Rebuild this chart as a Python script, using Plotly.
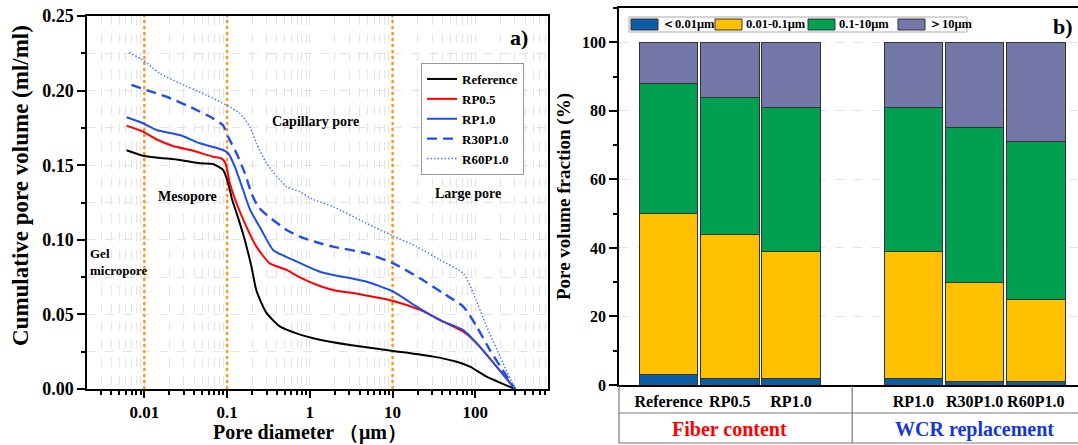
import plotly.graph_objects as go

# ---------------- Panel a) data ----------------
ref_d = [0.0061, 0.0096, 0.0268, 0.047, 0.0676, 0.0893, 0.103, 0.115, 0.13, 0.156, 0.197, 0.226,
         0.299, 0.434, 0.69, 1.32, 3.05, 10.2, 31, 59.5, 86, 137, 302]
ref_v = [0.160, 0.1564, 0.1535, 0.1513, 0.1508, 0.1468, 0.138, 0.127, 0.118, 0.104, 0.082, 0.066,
         0.051, 0.042, 0.0373, 0.033, 0.0295, 0.0255, 0.0217, 0.0183, 0.015, 0.0083, 0.0]

rp05_d = [0.0061, 0.0096, 0.0146, 0.0222, 0.0387, 0.0676, 0.0855, 0.0955, 0.108, 0.13, 0.171, 0.226,
          0.328, 0.523, 0.757, 1.32, 1.91, 4.03, 10.2, 21.4, 41, 71.5, 104, 302]
rp05_v = [0.1765, 0.1725, 0.1669, 0.1629, 0.1597, 0.1557, 0.1546, 0.1513, 0.1379, 0.1245, 0.1088, 0.0954,
          0.0842, 0.0798, 0.0748, 0.069, 0.0664, 0.0635, 0.059, 0.053, 0.0451, 0.0384, 0.0306, 0.0]

rp10_d = [0.0061, 0.0096, 0.014, 0.0268, 0.0468, 0.0893, 0.103, 0.124, 0.156, 0.19, 0.26, 0.36,
          0.628, 1.32, 1.91, 4.85, 10.2, 19.5, 37.4, 71.5, 104, 302]
rp10_v = [0.1821, 0.1781, 0.1736, 0.1702, 0.1647, 0.1602, 0.158, 0.149, 0.1334, 0.12, 0.1066, 0.0932,
          0.0865, 0.0786, 0.0764, 0.0719, 0.0652, 0.0552, 0.0462, 0.0395, 0.0306, 0.0]

r30_d = [0.00697, 0.0106, 0.0185, 0.0353, 0.0676, 0.089, 0.103, 0.13, 0.164, 0.197, 0.237, 0.286,
         0.523, 0.757, 1.32, 1.91, 4.85, 10.2, 21.4, 41, 71.5, 104, 150, 302]
r30_v = [0.2038, 0.2004, 0.1959, 0.1892, 0.1814, 0.1769, 0.169, 0.158, 0.1446, 0.1312, 0.1222, 0.1177,
         0.1066, 0.1021, 0.0977, 0.0954, 0.0909, 0.0842, 0.0742, 0.0641, 0.0552, 0.0418, 0.0261, 0.0]

r60_d = [0.00652, 0.0096, 0.0153, 0.0268, 0.0563, 0.098, 0.142, 0.188, 0.226, 0.299, 0.523, 0.757,
         1.1, 1.91, 4.85, 10.2, 19.5, 37.4, 71.5, 94.5, 137, 199, 302]
r60_v = [0.2254, 0.2205, 0.2116, 0.2049, 0.197, 0.1903, 0.1848, 0.1758, 0.1647, 0.1513, 0.1356, 0.1322,
         0.127, 0.1222, 0.111, 0.1025, 0.0954, 0.0865, 0.0775, 0.0641, 0.0418, 0.0217, 0.0]

pore_boundaries = [0.01, 0.1, 10]

# ---------------- Panel b) data ----------------
groups = ["Fiber content", "WCR replacement"]
group_members = [["Reference", "RP0.5", "RP1.0"], ["RP1.0", "R30P1.0", "R60P1.0"]]
size_classes = ["＜0.01μm", "0.01-0.1μm", "0.1-10μm", "＞10μm"]
frac_lt001 = [3, 2, 2, 2, 1, 1]
frac_001_01 = [47, 42, 37, 37, 29, 24]
frac_01_10 = [38, 40, 42, 42, 45, 46]
frac_gt10 = [12, 16, 19, 19, 25, 29]

FONT = "Liberation Serif"
W, H = 1078, 445


def px_x(p):
    return p / W


def px_y(p):
    return (H - p) / H


# positions: categories in order, one empty slot between groups
positions, labels, group_idx = [], [], []
for gi, mem in enumerate(group_members):
    for mi, name in enumerate(mem):
        positions.append(gi * (len(mem) + 1) + mi)
        labels.append(name)
        group_idx.append(gi)

fig = go.Figure()

series = [
    ("Reference", ref_d, ref_v, "black", "solid", 2),
    ("RP0.5", rp05_d, rp05_v, "#FF0000", "solid", 2),
    ("RP1.0", rp10_d, rp10_v, "#1F4FE6", "solid", 2),
    ("R30P1.0", r30_d, r30_v, "#1F4FE6", "10px,6px", 2.4),
    ("R60P1.0", r60_d, r60_v, "#4A7CF5", "1.5px,2px", 1.5),
]

# orange boundary lines
for b in pore_boundaries:
    fig.add_trace(go.Scatter(x=[b, b], y=[0, 0.25], mode="lines", xaxis="x", yaxis="y",
                             line=dict(color="#FF9A1F", width=2.5, dash="3px,3px"),
                             showlegend=False, hoverinfo="skip"))

for name, d, v, c, dash, w in series:
    fig.add_trace(go.Scatter(x=d, y=v, mode="lines", name=name, xaxis="x", yaxis="y",
                             line=dict(color=c, dash=dash, width=w, shape="spline", smoothing=0.6),
                             legend="legend"))

bar_colors = ["#0C5DA5", "#FFC000", "#00A050", "#7378A8"]
for cls, vals, col in zip(size_classes, [frac_lt001, frac_001_01, frac_01_10, frac_gt10], bar_colors):
    fig.add_trace(go.Bar(x=positions, y=vals, name=cls, xaxis="x2", yaxis="y2",
                         marker=dict(color=col, line=dict(color="#333333", width=1)),
                         width=0.955, showlegend=False))

grid_c = "#E4E4E4"
fig.update_layout(
    width=W, height=H, margin=dict(l=0, r=0, t=0, b=0, autoexpand=False),
    paper_bgcolor="white", plot_bgcolor="white",
    barmode="stack",
    font=dict(family=FONT, color="black"),
    xaxis=dict(type="log", domain=[px_x(87), px_x(548)], range=[-2.693, 2.878], automargin=False,
               tickvals=[0.01, 0.1, 1, 10, 100], ticktext=["0.01", "0.1", "1", "10", "100"],
               ticks="outside", ticklen=7, tickwidth=1.5, tickcolor="black",
               showline=True, linecolor="black", linewidth=1.5, mirror=True,
               showgrid=True, gridcolor=grid_c, griddash="dash", gridwidth=1,
               minor=dict(dtick="D1", ticks="outside", ticklen=4, tickcolor="black",
                          showgrid=True, gridcolor=grid_c, griddash="dash"),
               tickfont=dict(size=17, family=FONT, weight="bold"),
               zeroline=False),
    yaxis=dict(domain=[px_y(389), px_y(16)], range=[0, 0.25], automargin=False,
               tickvals=[0, 0.05, 0.10, 0.15, 0.20, 0.25],
               ticktext=["0.00", "0.05", "0.10", "0.15", "0.20", "0.25"],
               ticks="outside", ticklen=8, tickwidth=1.5, tickcolor="black",
               showline=True, linecolor="black", linewidth=1.5, mirror=True,
               showgrid=True, gridcolor=grid_c, griddash="dash",
               minor=dict(dtick=0.025, ticks="outside", ticklen=4, tickcolor="black",
                          showgrid=True, gridcolor=grid_c, griddash="dash"),
               tickfont=dict(size=18, family=FONT, weight="bold"),
               zeroline=False),
    xaxis2=dict(domain=[px_x(619), 1.0], range=[-0.81, 6.69], anchor="y2", automargin=False,
                tickvals=positions, ticktext=labels, ticks="", ticklabelstandoff=1,
                showline=True, linecolor="black", linewidth=1.5, mirror=True,
                showgrid=False, zeroline=False,
                tickfont=dict(size=16, family=FONT, weight="bold")),
    yaxis2=dict(domain=[px_y(385), px_y(8)], range=[0, 110], anchor="x2", automargin=False,
                tickvals=[0, 20, 40, 60, 80, 100],
                ticks="outside", ticklen=8, tickwidth=1.5, tickcolor="black",
                showline=True, linecolor="black", linewidth=1.5,
                showgrid=True, gridcolor=grid_c, griddash="dash",
                minor=dict(dtick=10, ticks="outside", ticklen=4, tickcolor="black", showgrid=False),
                tickfont=dict(size=16, family=FONT, weight="bold"),
                title=dict(text="Pore volume fraction (%)", font=dict(size=19, family=FONT, weight="bold"),
                           standoff=6),
                zeroline=False),
    legend=dict(x=px_x(421), y=px_y(63), xanchor="left", yanchor="top", traceorder="normal",
                bgcolor="white", bordercolor="#999999", borderwidth=1,
                font=dict(size=13, family=FONT, weight="bold"), tracegroupgap=0, itemwidth=30),
)


def label(text, x, y, size, xanchor="center", yanchor="middle", color="black", angle=0, xref="paper"):
    fig.add_annotation(text=text, x=x, y=px_y(y), xref=xref, yref="paper",
                       xanchor=xanchor, yanchor=yanchor, textangle=angle, showarrow=False,
                       align="left", font=dict(size=size, family=FONT, weight="bold", color=color))


# axis titles of panel a (placed to match the reference)
label("Cumulative pore volume (ml/ml)", px_x(20), 186, 23, angle=-90)
label("Pore diameter （μm）", px_x(310), 432, 20)

# panel labels and region annotations
label("a)", px_x(519), 37, 22)
label("b)", px_x(1063), 27, 22)
label("Capillary pore", px_x(315), 122, 14)
label("Mesopore", px_x(187), 196, 14)
label("Large pore", px_x(468), 193, 14)
label("Gel<br>micropore", px_x(88), 262, 13, xanchor="left")

# legend for panel b (boxed, horizontal, wide swatches)
leg_box = (629, 17, 967, 32)
fig.add_shape(type="rect", xref="paper", yref="paper", x0=px_x(leg_box[0]), x1=px_x(leg_box[2]),
              y0=px_y(leg_box[3]), y1=px_y(leg_box[1]), line=dict(color="#AAAAAA", width=1),
              fillcolor="white")
sw_left = [631, 715, 808, 898]
for cls, col, sx in zip(size_classes, bar_colors, sw_left):
    fig.add_shape(type="rect", xref="paper", yref="paper", x0=px_x(sx), x1=px_x(sx + 27),
                  y0=px_y(30), y1=px_y(19), line=dict(color="#333333", width=1), fillcolor=col)
    label(cls, px_x(sx + 29), 24.5, 12.5, xanchor="left")

# category table under panel b
group_colors = ["#FF0000", "#1438D8"]
for gi, (g, col) in enumerate(zip(groups, group_colors)):
    gpos = [p for p, k in zip(positions, group_idx) if k == gi]
    label(g, sum(gpos) / len(gpos), 429, 20, color=col, xref="x2")

line_c = "#777777"
fig.add_shape(type="line", xref="paper", yref="paper", x0=px_x(619), x1=1, y0=px_y(413), y1=px_y(413),
              line=dict(color=line_c, width=1.2))
fig.add_shape(type="line", xref="paper", yref="paper", x0=px_x(619), x1=1, y0=px_y(443), y1=px_y(443),
              line=dict(color=line_c, width=1.2))
fig.add_shape(type="line", xref="paper", yref="paper", x0=px_x(619), x1=px_x(619), y0=px_y(386), y1=px_y(443),
              line=dict(color=line_c, width=1.2))
sep = (max(positions[:3]) + min(positions[3:])) / 2
fig.add_shape(type="line", xref="x2", yref="paper", x0=sep, x1=sep, y0=px_y(386), y1=px_y(443),
              line=dict(color=line_c, width=1.2))

fig.write_html("out.html")
